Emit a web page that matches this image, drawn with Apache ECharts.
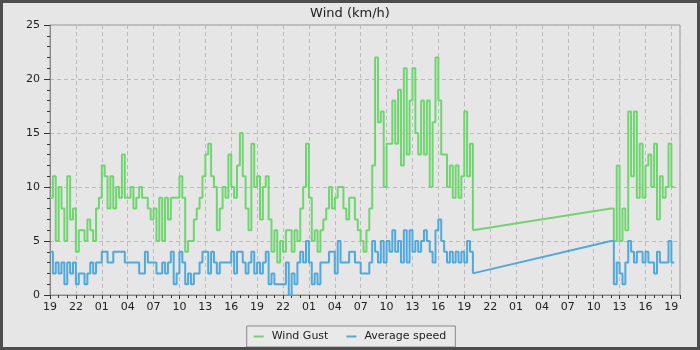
<!DOCTYPE html>
<html>
<head>
<meta charset="utf-8">
<script src="https://cdn.jsdelivr.net/npm/echarts@6/dist/echarts.min.js"></script>
<style>
html, body { margin: 0; padding: 0; background: #e6e6e6; }
#wrap { position: relative; width: 700px; height: 350px; }
#chart { position: absolute; left: 0; top: 0; width: 700px; height: 350px; }
#frame { position: absolute; left: 0; top: 0; width: 700px; height: 350px; box-sizing: border-box; border: 3px solid #4d4d4d; pointer-events: none; }
</style>
</head>
<body>
<div id="wrap">
  <div id="chart"></div>
  <div id="frame"></div>
</div>
<script>
// hours are counted from the first label (19:00), samples every 20 minutes
const firstHour = 19
const stepH = 1 / 3
const seg1Start = 0
const seg2Start = 65

const gustSeg1 = [
  9, 11, 5, 10, 8, 5, 11, 7, 8, 4, 6, 6, 5, 7, 6, 5, 8, 9, 12, 11, 8, 11, 8, 10, 9, 13,
  9, 9, 10, 8, 9, 10, 9, 9, 8, 7, 8, 5, 9, 5, 9, 7, 9, 9, 9, 11, 9, 4, 5, 5, 7, 8,
  9, 11, 13, 14, 11, 10, 6, 8, 10, 9, 13, 10, 9, 12, 15, 11, 8, 6, 14, 10, 11, 7, 10, 11,
  7, 4, 6, 3, 5, 4, 6, 6, 4, 6, 5, 8, 10, 14, 9, 5, 6, 4, 6, 7, 8, 10, 8, 9, 10,
  10, 8, 7, 9, 9, 7, 6, 5, 4, 6, 8, 12, 22, 16, 17, 10, 14, 14, 18, 14, 19, 12, 21, 13,
  18, 21, 15, 13, 18, 13, 18, 10, 16, 22, 18, 13, 13, 10, 12, 9, 12, 9, 11, 17, 11, 14, 6
]
const avgSeg1 = [
  4, 2, 3, 2, 3, 1, 3, 2, 3, 1, 2, 2, 1, 2, 3, 2, 3, 3, 4, 4, 3, 3, 4, 4, 4, 4,
  3, 3, 3, 3, 3, 2, 2, 4, 3, 3, 3, 2, 2, 3, 2, 3, 4, 1, 2, 4, 3, 1, 2, 1, 2, 2,
  3, 4, 4, 2, 4, 3, 2, 3, 3, 3, 3, 4, 2, 4, 4, 3, 2, 3, 4, 2, 3, 2, 3, 4,
  1, 2, 1, 1, 1, 1, 3, 0, 2, 1, 3, 4, 3, 5, 3, 1, 2, 1, 3, 3, 3, 4, 4, 2, 5,
  3, 3, 3, 4, 4, 3, 3, 2, 2, 2, 3, 5, 4, 3, 5, 3, 5, 4, 6, 4, 5, 3, 6, 3,
  6, 4, 5, 4, 5, 6, 5, 4, 3, 6, 7, 5, 4, 3, 4, 3, 4, 3, 4, 3, 5, 4, 2
]
const gustSeg2 = [8, 5, 12, 5, 8, 6, 17, 11, 17, 9, 14, 9, 12, 13, 10, 14, 7, 11, 9, 10, 14, 10, 10]
const avgSeg2 = [5, 1, 3, 2, 1, 3, 5, 4, 3, 4, 4, 3, 4, 3, 3, 2, 4, 3, 3, 3, 5, 3, 3]

const toPoints = (start, vals) => vals.map((v, i) => [start + i * stepH, v])
const seg1End = seg1Start + (gustSeg1.length - 1) * stepH
// the logger has no data in the gap, the chart just joins the two ends
const bridge = (a, b) => [[seg1End, a[a.length - 1]], [seg2Start, b[0]]]
const gustData = toPoints(seg1Start, gustSeg1).concat([[null, null]], toPoints(seg2Start, gustSeg2))
const avgData = toPoints(seg1Start, avgSeg1).concat([[null, null]], toPoints(seg2Start, avgSeg2))

const gustColor = '#6fd66f'
const avgColor = '#4ea9dc'
const font = 'DejaVu Sans'
const chart = echarts.init(document.getElementById('chart'))
const option = {
  animation: false,
  textStyle: { fontFamily: font },
  title: {
    text: 'Wind (km/h)',
    left: 'center',
    top: 2,
    textStyle: { fontFamily: font, fontSize: 13, fontWeight: 'normal', color: '#222' }
  },
  grid: {
    left: 50, right: 20, top: 25, bottom: 55,
    show: true, borderColor: '#999', borderWidth: 1, backgroundColor: 'transparent'
  },
  legend: {
    bottom: 3,
    left: 'center',
    padding: [5, 9, 5, 7],
    itemGap: 18,
    itemWidth: 10,
    itemHeight: 2,
    icon: 'rect',
    borderColor: '#888',
    borderWidth: 1,
    backgroundColor: '#e9e9e9',
    textStyle: { fontFamily: font, fontSize: 11, color: '#222', padding: [0, 0, 0, 3] },
    data: ['Wind Gust', 'Average speed']
  },
  xAxis: {
    type: 'value',
    min: 0,
    max: 73,
    interval: 3,
    axisLine: { lineStyle: { color: '#888' } },
    axisTick: { length: 4, lineStyle: { color: '#333' } },
    minorTick: { show: true, splitNumber: 3, length: 3, lineStyle: { color: '#333' } },
    axisLabel: {
      margin: 7,
      fontSize: 11,
      color: '#222',
      showMaxLabel: false,
      formatter: v => (v % 3 === 0 ? String((firstHour + v) % 24).padStart(2, '0') : '')
    },
    splitLine: { show: true, lineStyle: { color: '#bbb', type: [4, 3] } }
  },
  yAxis: {
    type: 'value',
    min: 0,
    max: 25,
    interval: 5,
    axisLine: { show: true, lineStyle: { color: '#888' } },
    axisTick: { show: true, length: 6, lineStyle: { color: '#333' } },
    minorTick: { show: true, splitNumber: 5, length: 3, lineStyle: { color: '#333' } },
    axisLabel: { margin: 10, fontSize: 11, color: '#222' },
    splitLine: { show: true, lineStyle: { color: '#bbb', type: [4, 3] } }
  },
  series: [
    {
      name: 'Wind Gust',
      type: 'line',
      step: 'end',
      data: gustData,
      showSymbol: false,
      color: gustColor,
      lineStyle: { width: 2 }
    },
    {
      name: 'Average speed',
      type: 'line',
      step: 'end',
      data: avgData,
      showSymbol: false,
      color: avgColor,
      lineStyle: { width: 2 }
    },
    {
      name: 'gust-gap',
      type: 'line',
      data: bridge(gustSeg1, gustSeg2),
      showSymbol: false,
      color: gustColor,
      lineStyle: { width: 2 }
    },
    {
      name: 'avg-gap',
      type: 'line',
      data: bridge(avgSeg1, avgSeg2),
      showSymbol: false,
      color: avgColor,
      lineStyle: { width: 2 }
    }
  ]
}
chart.setOption(option)
</script>
</body>
</html>
